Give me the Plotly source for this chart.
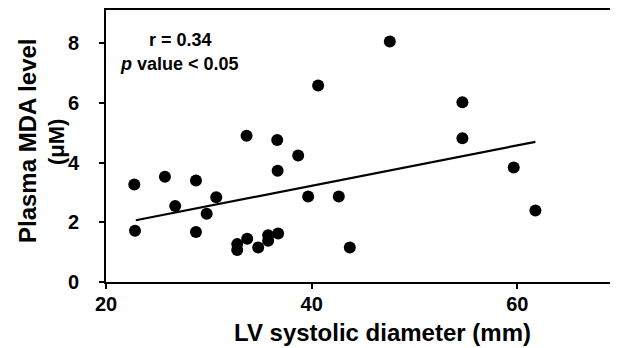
import plotly.graph_objects as go

# LV systolic diameter (mm) and plasma MDA level (uM)
lv_diameter = [22.75, 25.73, 28.75, 26.73, 30.72, 29.79, 22.82, 28.75,
               33.67, 36.65, 38.69, 36.69, 39.66, 42.64, 32.76, 32.76,
               33.73, 34.80, 35.77, 35.77, 36.74, 43.71, 47.60, 40.63,
               54.66, 54.66, 59.65, 61.76]
mda_level = [3.27, 3.53, 3.40, 2.55, 2.84, 2.29, 1.72, 1.68,
             4.90, 4.76, 4.24, 3.73, 2.87, 2.87, 1.27, 1.07,
             1.45, 1.16, 1.57, 1.38, 1.63, 1.16, 8.06, 6.59,
             6.03, 4.82, 3.84, 2.40]

# regression line end points
fit_x = [22.9, 61.76]
fit_y = [2.07, 4.70]

x_ticks = [20, 40, 60]
y_ticks = [0, 2, 4, 6, 8]

FONT = "Liberation Sans, Arial, sans-serif"

# page places the figure with an 8px body margin
OFF = 8
PL, PR, PT, PB = 106, 615, 8, 282  # plot area on the page


def px(xp):
    return (xp - PL) / (PR - PL)


def py(yp):
    return (PB - yp) / (PB - PT)


fig = go.Figure()
fig.add_trace(go.Scatter(x=fit_x, y=fit_y, mode="lines",
                         line=dict(color="black", width=2.2),
                         showlegend=False, hoverinfo="skip"))
fig.add_trace(go.Scatter(x=lv_diameter, y=mda_level, mode="markers",
                         marker=dict(color="black", size=12),
                         showlegend=False))

axis_common = dict(showline=True, linecolor="black", linewidth=2, mirror=True,
                   ticks="outside", ticklen=5, tickwidth=2, tickcolor="black",
                   showgrid=False, zeroline=False,
                   tickfont=dict(family=FONT, size=20, color="black", weight="bold"))

fig.update_xaxes(range=[20, 69.5], tickvals=x_ticks, ticktext=[str(v) for v in x_ticks],
                 ticklabelstandoff=-2, **axis_common)
fig.update_yaxes(range=[0, 9.12], tickvals=y_ticks, ticktext=[str(v) for v in y_ticks],
                 ticklabelstandoff=16, **axis_common)

fig.add_annotation(xref="paper", yref="paper", x=px(382), y=py(333),
                   text="<b>LV systolic diameter (mm)</b>", showarrow=False,
                   font=dict(family=FONT, size=24, color="black"),
                   xanchor="center", yanchor="middle")
fig.add_annotation(xref="paper", yref="paper", x=px(27), y=py(140),
                   text="<b>Plasma MDA level</b>", showarrow=False, textangle=-90,
                   font=dict(family=FONT, size=24, color="black"),
                   xanchor="center", yanchor="middle")
fig.add_annotation(xref="paper", yref="paper", x=px(56), y=py(141),
                   text="<b>(μM)</b>", showarrow=False, textangle=-90,
                   font=dict(family=FONT, size=22, color="black"),
                   xanchor="center", yanchor="middle")
fig.add_annotation(xref="paper", yref="paper", x=px(180), y=py(38),
                   text="<b>r = 0.34</b>", showarrow=False,
                   font=dict(family=FONT, size=18, color="black"),
                   xanchor="center", yanchor="middle")
fig.add_annotation(xref="paper", yref="paper", x=px(179), y=py(62),
                   text="<b><i>p</i> value &lt; 0.05</b>", showarrow=False,
                   font=dict(family=FONT, size=18, color="black"),
                   xanchor="center", yanchor="middle")

fig.update_layout(width=618 - OFF, height=348 - OFF,
                  margin=dict(l=PL - OFF, r=(618 - OFF) - (PR - OFF), t=PT - OFF,
                              b=(348 - OFF) - (PB - OFF)),
                  plot_bgcolor="white", paper_bgcolor="white",
                  font=dict(family=FONT, color="black"))

fig.write_html("out.html")
